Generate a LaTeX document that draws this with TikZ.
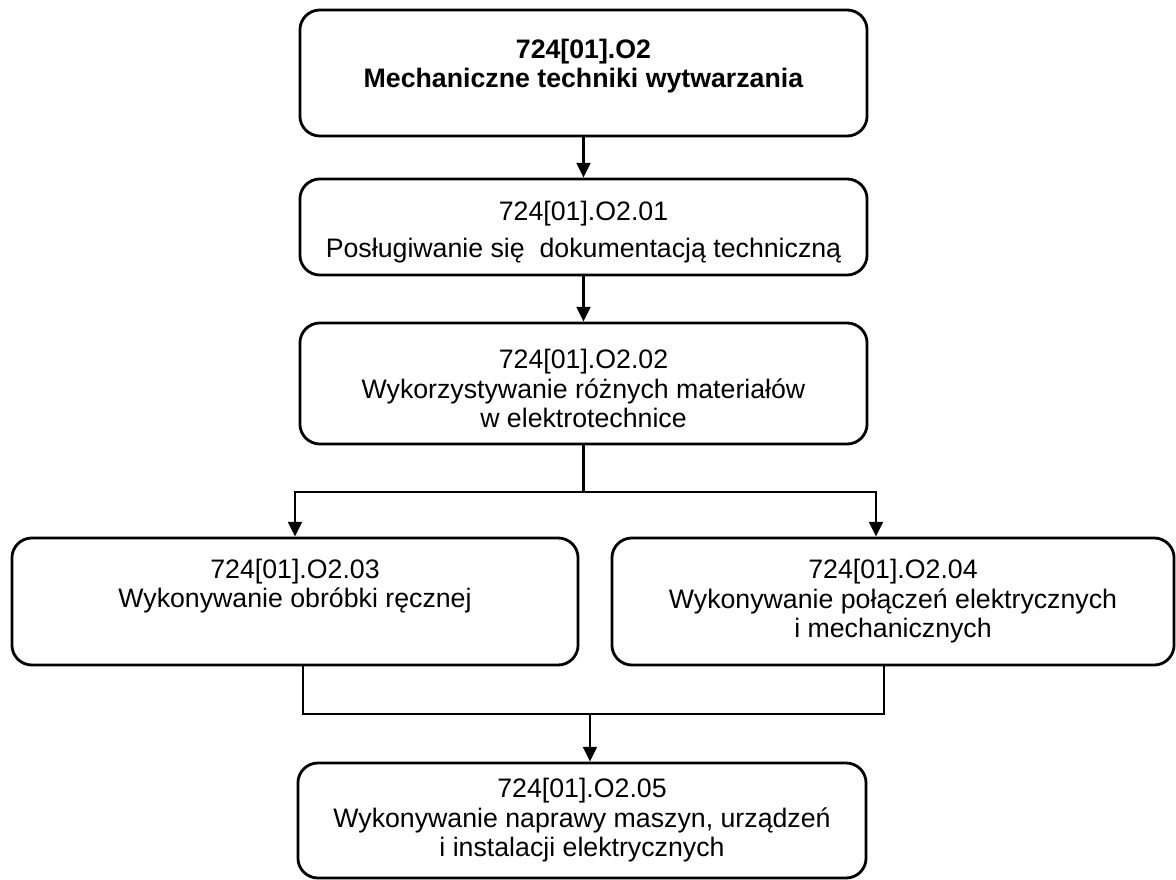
\documentclass[tikz,border=0pt]{standalone}
\usepackage{fontspec}
\setmainfont{Liberation Sans}
\usetikzlibrary{arrows.meta, calc}

\begin{document}
\begin{tikzpicture}[
    x=0.025cm, y=-0.025cm,
    box/.style={rectangle, draw, rounded corners=0.5cm, align=center, inner sep=0pt, line width=2pt, font=\fontsize{19}{21}\selectfont},
    link/.style={line width=1.5pt},
    arrow/.style={-{Triangle[length=0.37cm, width=0.35cm]}, line width=1.5pt}
]
\fill[white] (0,0) rectangle (1176,880);
\useasboundingbox (0,0) rectangle (1176,880);

% Nodes
\node[box, minimum width=14.175cm, minimum height=3.15cm] (module) at (583.5,73) {\textbf{724[01].O2}\\\textbf{Mechaniczne techniki wytwarzania}\\[-7pt]\mbox{}};
\node[box, minimum width=14.175cm, minimum height=2.4cm] (unit1) at (583.5,227) {\rule{0pt}{21pt}724[01].O2.01\\[5pt]Posługiwanie się\ \ dokumentacją techniczną};
\node[box, minimum width=14.175cm, minimum height=3.025cm] (unit2) at (583.5,383.5) {\rule{0pt}{21pt}724[01].O2.02\\Wykorzystywanie różnych materiałów\\w elektrotechnice};
\node[box, minimum width=14.15cm, minimum height=3.175cm] (unit3) at (295,601.5) {724[01].O2.03\\Wykonywanie obróbki ręcznej\\[5pt]\mbox{}};
\node[box, minimum width=14.05cm, minimum height=3.175cm] (unit4) at (893,601.5) {724[01].O2.04\\Wykonywanie połączeń elektrycznych\\i mechanicznych};
\node[box, minimum width=14.2cm, minimum height=2.875cm] (unit5) at (582,820.5) {724[01].O2.05\\Wykonywanie naprawy maszyn, urządzeń\\i instalacji elektrycznych};

% Connections
\draw[arrow] (module) -- (unit1);
\draw[arrow] (unit1) -- (unit2);
\draw[link] (unit2.south) -- ++(0,47) coordinate (split);
\draw[arrow] (split) -| (unit3.north);
\draw[arrow] (split) -| ([xshift=-0.425cm]unit4.north);
\coordinate (merge) at ($(unit5.north)+(8,-48)$);
\draw[link] ([xshift=0.2cm]unit3.south) |- (merge) -| ([xshift=-0.225cm]unit4.south);
\draw[arrow] (merge) -- (merge |- unit5.north);

\end{tikzpicture}
\end{document}
